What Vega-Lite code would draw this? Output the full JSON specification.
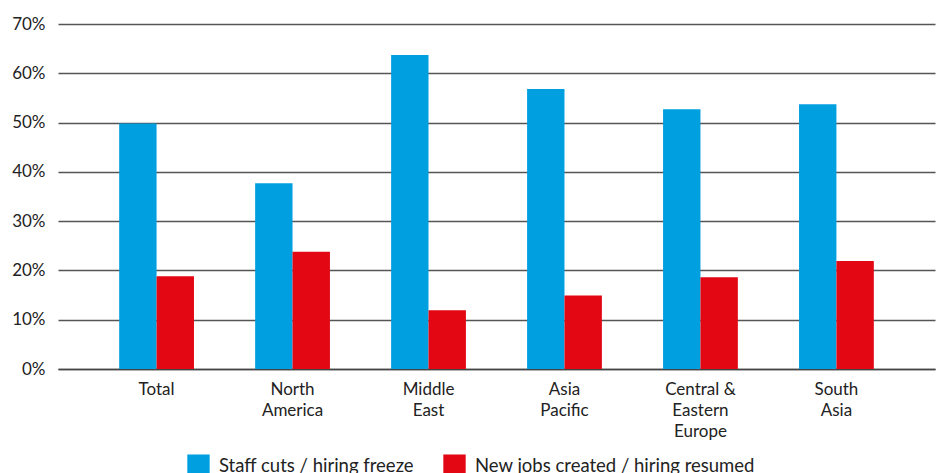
{
  "$schema": "https://vega.github.io/schema/vega-lite/v6.json",
  "width": 877,
  "height": 345,
  "autosize": {"type": "none"},
  "padding": {"left": 58, "top": 24, "right": 8, "bottom": 104},
  "background": "white",
  "data": {
    "values": [
      {"region": "Total", "series": "Staff cuts / hiring freeze", "value": 0.498},
      {"region": "Total", "series": "New jobs created / hiring resumed", "value": 0.188},
      {"region": "North America", "series": "Staff cuts / hiring freeze", "value": 0.377},
      {"region": "North America", "series": "New jobs created / hiring resumed", "value": 0.238},
      {"region": "Middle East", "series": "Staff cuts / hiring freeze", "value": 0.637},
      {"region": "Middle East", "series": "New jobs created / hiring resumed", "value": 0.119},
      {"region": "Asia Pacific", "series": "Staff cuts / hiring freeze", "value": 0.568},
      {"region": "Asia Pacific", "series": "New jobs created / hiring resumed", "value": 0.149},
      {"region": "Central & Eastern Europe", "series": "Staff cuts / hiring freeze", "value": 0.527},
      {"region": "Central & Eastern Europe", "series": "New jobs created / hiring resumed", "value": 0.186},
      {"region": "South Asia", "series": "Staff cuts / hiring freeze", "value": 0.537},
      {"region": "South Asia", "series": "New jobs created / hiring resumed", "value": 0.219}
    ]
  },
  "config": {
    "view": {"stroke": null},
    "font": "Lato"
  },
  "mark": {"type": "bar"},
  "encoding": {
    "x": {
      "field": "region",
      "type": "nominal",
      "sort": null,
      "scale": {"paddingInner": 0.45, "paddingOuter": 0.45},
      "axis": {
        "title": null,
        "labelAngle": 0,
        "ticks": false,
        "domain": true,
        "domainColor": "#444",
        "domainWidth": 1.5,
        "labelFontSize": 17,
        "labelColor": "#222",
        "labelPadding": 12,
        "labelLineHeight": 21,
        "labelBaseline": "top",
        "labelExpr": "datum.label == 'Central & Eastern Europe' ? ['Central &', 'Eastern', 'Europe'] : split(datum.label, ' ')"
      }
    },
    "xOffset": {"field": "series", "type": "nominal", "sort": ["Staff cuts / hiring freeze", "New jobs created / hiring resumed"], "scale": {"paddingInner": 0, "paddingOuter": 0}},
    "y": {
      "field": "value",
      "type": "quantitative",
      "scale": {"domain": [0, 0.7], "nice": false},
      "axis": {
        "title": null,
        "format": ".0%",
        "values": [0, 0.1, 0.2, 0.3, 0.4, 0.5, 0.6, 0.7],
        "ticks": false,
        "domain": false,
        "grid": true,
        "gridColor": "#555",
        "gridWidth": 1.5,
        "labelFontSize": 17,
        "labelColor": "#222",
        "labelPadding": 13
      }
    },
    "color": {
      "field": "series",
      "type": "nominal",
      "sort": ["Staff cuts / hiring freeze", "New jobs created / hiring resumed"],
      "scale": {"range": ["#009FE0", "#E30613"]},
      "legend": {
        "title": null,
        "orient": "none",
        "direction": "horizontal",
        "legendX": 129,
        "legendY": 430,
        "symbolType": "square",
        "symbolSize": 500,
        "symbolStrokeWidth": 0,
        "symbolOpacity": 1,
        "labelFontSize": 18.5,
        "labelColor": "#222",
        "labelOffset": 9,
        "columnPadding": 29,
        "labelLimit": 400
      }
    }
  }
}
